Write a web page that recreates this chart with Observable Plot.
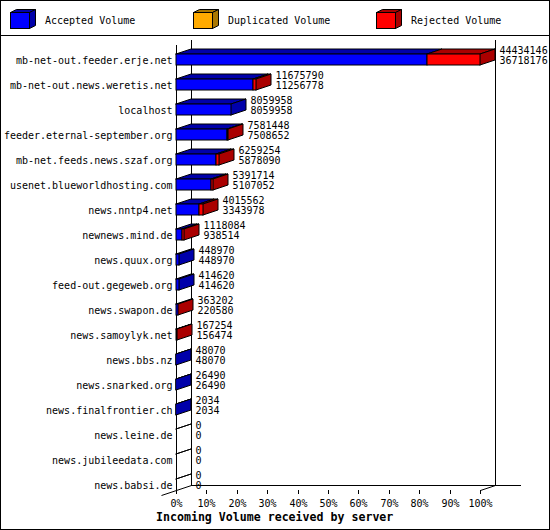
<!DOCTYPE html>
<html>
<head>
<meta charset="utf-8">
<script src="https://cdn.jsdelivr.net/npm/d3@7"></script>
<script src="https://cdn.jsdelivr.net/npm/@observablehq/plot@0.6"></script>
<style>
  body { margin: 0; background: #fff; }
  #chart { position: relative; width: 550px; height: 530px; box-sizing: border-box; border: 1px solid #000; background: #fff; overflow: hidden; font-family: "DejaVu Sans Mono", monospace; }
  #legend { position: absolute; left: 0; top: 0; width: 548px; height: 34px; }
  #sep { position: absolute; left: 0; top: 34px; width: 548px; height: 1px; background: #000; }
  #plot { position: absolute; left: 0; top: 35px; }
  #caption { position: absolute; left: 155px; top: 509px; font-weight: bold; font-size: 11.6px; line-height: 14px; white-space: pre; color: #000; }
</style>
</head>
<body>
<div id="chart">
  <svg id="legend" width="548" height="34"></svg>
  <div id="sep"></div>
  <div id="plot"></div>
  <div id="caption">Incoming Volume received by server</div>
</div>
<script>
// ---- data ----
const servers = [
  "mb-net-out.feeder.erje.net",
  "mb-net-out.news.weretis.net",
  "localhost",
  "feeder.eternal-september.org",
  "mb-net.feeds.news.szaf.org",
  "usenet.blueworldhosting.com",
  "news.nntp4.net",
  "newnews.mind.de",
  "news.quux.org",
  "feed-out.gegeweb.org",
  "news.swapon.de",
  "news.samoylyk.net",
  "news.bbs.nz",
  "news.snarked.org",
  "news.finalfrontier.ch",
  "news.leine.de",
  "news.jubileedata.com",
  "news.babsi.de"
];
const totalVolume = [44434146, 11675790, 8059958, 7581448, 6259254, 5391714, 4015562, 1118084, 448970, 414620, 363202, 167254, 48070, 26490, 2034, 0, 0, 0];
const acceptedVolume = [36718176, 11256778, 8059958, 7508652, 5878090, 5107052, 3343978, 938514, 448970, 414620, 220580, 156474, 48070, 26490, 2034, 0, 0, 0];
const duplicatedVolume = [0, 0, 0, 0, 0, 0, 0, 0, 0, 0, 0, 0, 0, 0, 0, 0, 0, 0];
const seriesNames = ["Accepted Volume", "Duplicated Volume", "Rejected Volume"];
const frontColors = ["#0000ff", "#ffaa00", "#ff0000"];
const darkColors = ["#0000aa", "#aa7700", "#aa0000"];
const xTicks = [0, 10, 20, 30, 40, 50, 60, 70, 80, 90, 100];
const xLabel = "Incoming Volume received by server";

// ---- geometry (pixels -> data units) ----
const PX_X = 100 / 304, PX_Y = 1 / 25;
const DEPTH_X = 15 * PX_X, DEPTH_Y = 5 * PX_Y;
const FRONT_TOP = 6 * PX_Y, FRONT_BOTTOM = 5 * PX_Y;
const maxTotal = d3.max(totalVolume);
const pct = v => 100 * v / maxTotal;
const lastRow = servers.length - 1;
const floorFront = lastRow + FRONT_BOTTOM;
const floorBack = floorFront - DEPTH_Y;
const axisTop = -15 * PX_Y;

// ---- derived tables ----
const rows = servers.map((name, i) => ({row: i, name, total: totalVolume[i], accepted: acceptedVolume[i]}));
const fronts = [], tops = [], sides = [];
let id = 0;
rows.forEach(r => {
  const i = r.row;
  const vals = [acceptedVolume[i], duplicatedVolume[i], totalVolume[i] - acceptedVolume[i] - duplicatedVolume[i]];
  let start = 0, lastK = -1;
  vals.forEach((v, k) => {
    if (v > 0) {
      const a = pct(start), b = pct(start + v);
      fronts.push({row: i, x1: a, x2: b, fill: frontColors[k]});
      tops.push({id, y: i - FRONT_TOP, x1: a, x2: b, fill: darkColors[k]});
      tops.push({id, y: i - FRONT_TOP - DEPTH_Y, x1: a + DEPTH_X, x2: b + DEPTH_X, fill: darkColors[k]});
      id++;
      lastK = k;
    }
    start += v;
  });
  if (lastK < 0) {
    tops.push({id, y: i - FRONT_TOP, x1: 0, x2: 0, fill: "white"});
    tops.push({id, y: i - FRONT_TOP - DEPTH_Y, x1: DEPTH_X, x2: DEPTH_X, fill: "white"});
    id++;
  } else {
    const e = pct(start);
    sides.push({id, x: e, y1: i - FRONT_TOP, y2: i + FRONT_BOTTOM, fill: darkColors[lastK]});
    sides.push({id, x: e + DEPTH_X, y1: i - FRONT_TOP - DEPTH_Y, y2: i + FRONT_BOTTOM - DEPTH_Y, fill: darkColors[lastK]});
    id++;
  }
});

const plot = Plot.plot({
  width: 548,
  height: 473,
  x: {type: "linear", domain: [0, 100], range: [175, 479], round: true, axis: null},
  y: {type: "linear", domain: [0, lastRow], range: [24, 24 + 25 * lastRow], round: true, axis: null},
  style: {fontFamily: "DejaVu Sans Mono", fontSize: "10px", background: "white", color: "black", overflow: "visible"},
  marks: [
    // 3D frame
    Plot.ruleX([0], {y1: axisTop, y2: floorFront, stroke: "black"}),
    Plot.ruleX([DEPTH_X, 100 + DEPTH_X], {y1: axisTop - DEPTH_Y, y2: floorBack, stroke: "black"}),
    Plot.ruleY([floorBack], {x1: DEPTH_X, x2: 100 + DEPTH_X + 26 * PX_X, stroke: "black"}),
    Plot.link([
      {x1: -DEPTH_X, y1: floorFront + DEPTH_Y, x2: DEPTH_X, y2: floorBack},
      {x1: 100, y1: floorFront, x2: 100 + DEPTH_X, y2: floorBack}
    ], {x1: "x1", y1: "y1", x2: "x2", y2: "y2", stroke: "black"}),
    Plot.ruleX(xTicks, {y1: floorFront, y2: floorFront + 4 * PX_Y, stroke: "black"}),
    Plot.text(xTicks, {x: d => d, y: floorFront, dy: 13, text: d => d + "%", fill: "black"}),
    // bars
    Plot.areaX(tops, {y: "y", x1: "x1", x2: "x2", z: "id", fill: "fill", stroke: "black", strokeWidth: 1}),
    Plot.areaY(sides, {x: "x", y1: "y1", y2: "y2", z: "id", fill: "fill", stroke: "black", strokeWidth: 1}),
    Plot.rect(fronts, {x1: "x1", x2: "x2", y1: d => d.row - FRONT_TOP, y2: d => d.row + FRONT_BOTTOM, fill: "fill", stroke: "black", strokeWidth: 1}),
    // labels
    Plot.text(rows, {x: 0, y: "row", text: "name", textAnchor: "end", dx: -4, fill: "black"}),
    Plot.text(rows, {x: d => pct(d.total) + DEPTH_X, y: "row", text: d => `${d.total}\n${d.accepted}`, textAnchor: "start", dx: 4, dy: -5, lineHeight: 1, fill: "black"})
  ]
});
document.getElementById("plot").appendChild(plot);
document.getElementById("caption").textContent = xLabel;

// ---- legend ----
const legend = d3.select("#legend");
seriesNames.forEach((name, k) => {
  const bx = 9 + 183 * k + 0.5, by = 11.5, w = 19, h = 16, dx = 6, dy = 3;
  const g = legend.append("g");
  g.append("polygon").attr("points", `${bx},${by} ${bx + w},${by} ${bx + w + dx},${by - dy} ${bx + dx},${by - dy}`)
    .attr("fill", darkColors[k]).attr("stroke", "#000");
  g.append("polygon").attr("points", `${bx + w},${by} ${bx + w + dx},${by - dy} ${bx + w + dx},${by + h - dy} ${bx + w},${by + h}`)
    .attr("fill", darkColors[k]).attr("stroke", "#000");
  g.append("rect").attr("x", bx).attr("y", by).attr("width", w).attr("height", h)
    .attr("fill", frontColors[k]).attr("stroke", "#000");
  g.append("text").attr("x", 9 + 183 * k + 35).attr("y", 19).attr("dy", "0.35em")
    .attr("font-family", "DejaVu Sans Mono").attr("font-size", 10).text(name);
});
</script>
</body>
</html>
